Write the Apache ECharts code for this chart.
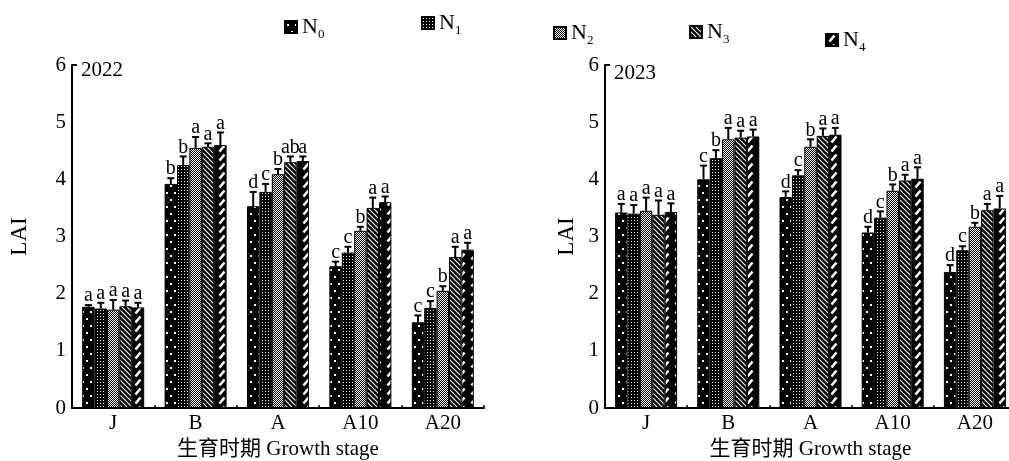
<!DOCTYPE html>
<html>
<head>
<meta charset="utf-8">
<script src="https://cdn.jsdelivr.net/npm/echarts@6/dist/echarts.min.js"></script>
<style>
html,body{margin:0;padding:0;background:#fff;}
#chart{width:1009px;height:461px;}
</style>
</head>
<body>
<div id="chart"></div>
<script>
// ---------- data ----------
const categories = ['J', 'B', 'A', 'A10', 'A20'];
const treatments = ['N0', 'N1', 'N2', 'N3', 'N4'];
const yTicks = [0, 1, 2, 3, 4, 5, 6];

// rows: N0..N4, columns: J, B, A, A10, A20
const lai2022 = [
  [1.77, 3.92, 3.53, 2.48, 1.50],
  [1.74, 4.25, 3.78, 2.72, 1.75],
  [1.72, 4.55, 4.09, 3.10, 2.05],
  [1.78, 4.57, 4.30, 3.50, 2.64],
  [1.76, 4.60, 4.32, 3.60, 2.77]
];
const err2022 = [
  [0.03, 0.10, 0.25, 0.08, 0.12],
  [0.10, 0.15, 0.14, 0.10, 0.12],
  [0.17, 0.19, 0.09, 0.07, 0.08],
  [0.10, 0.06, 0.10, 0.18, 0.18],
  [0.08, 0.22, 0.08, 0.10, 0.12]
];
const sig2022 = [
  ['a', 'b', 'd', 'c', 'c'],
  ['a', 'b', 'c', 'c', 'c'],
  ['a', 'a', 'b', 'b', 'b'],
  ['a', 'a', 'ab', 'a', 'a'],
  ['a', 'a', 'a', 'a', 'a']
];

const lai2023 = [
  [3.42, 4.00, 3.69, 3.07, 2.38],
  [3.40, 4.37, 4.07, 3.33, 2.76],
  [3.45, 4.70, 4.57, 3.80, 3.17],
  [3.38, 4.73, 4.76, 3.98, 3.46],
  [3.43, 4.75, 4.78, 4.01, 3.49]
];
const err2023 = [
  [0.15, 0.24, 0.10, 0.10, 0.12],
  [0.15, 0.14, 0.09, 0.11, 0.07],
  [0.23, 0.20, 0.13, 0.11, 0.07],
  [0.25, 0.12, 0.13, 0.10, 0.11],
  [0.15, 0.12, 0.12, 0.20, 0.22]
];
const sig2023 = [
  ['a', 'c', 'd', 'd', 'd'],
  ['a', 'b', 'c', 'c', 'c'],
  ['a', 'a', 'b', 'b', 'b'],
  ['a', 'a', 'a', 'a', 'a'],
  ['a', 'a', 'a', 'a', 'a']
];

// ---------- patterns ----------
function tile(w, h, draw) {
  const c = document.createElement('canvas');
  c.width = w; c.height = h;
  const g = c.getContext('2d');
  g.fillStyle = '#000'; g.fillRect(0, 0, w, h);
  g.fillStyle = '#fff'; g.strokeStyle = '#fff';
  draw(g);
  return { image: c, repeat: 'repeat' };
}
const patterns = [
  tile(8, 14, g => { g.fillRect(2, 3, 2, 2); g.fillRect(6, 10, 2, 2); }),
  tile(3, 3, g => { g.fillRect(1, 1, 1, 1); }),
  tile(2, 2, g => { g.fillRect(0, 0, 1, 1); g.fillRect(1, 1, 1, 1); }),
  tile(5, 5, g => { g.lineWidth = 1.1; g.beginPath(); g.moveTo(-1, -1); g.lineTo(6, 6); g.moveTo(-1, 4); g.lineTo(1, 6); g.moveTo(4, -1); g.lineTo(6, 1); g.stroke(); }),
  tile(12, 9, g => { g.lineWidth = 2.6; g.beginPath(); g.moveTo(3.5, 7.5); g.lineTo(8.5, 1.5); g.stroke(); })
];

// ---------- layout ----------
const SERIF = '"Liberation Serif", "DejaVu Serif", "Noto Sans CJK SC", serif';
const BW = 12.4;
const grids = [
  { left: 72, top: 65, width: 412, height: 343, outerBoundsMode: 'none', containLabel: false },
  { left: 605, top: 65, width: 411, height: 343, outerBoundsMode: 'none', containLabel: false }
];

function xAxisFor(gi) {
  return {
    type: 'category', gridIndex: gi, data: categories,
    axisLine: { lineStyle: { color: '#000', width: 2 } },
    axisTick: { show: true, inside: true, length: 3, lineStyle: { color: '#000', width: 1.5 } },
    axisLabel: { color: '#000', fontFamily: SERIF, fontSize: 21, margin: 5 },
    name: '生育时期 Growth stage', nameLocation: 'middle', nameGap: 29,
    nameTextStyle: { color: '#000', fontFamily: SERIF, fontSize: 21 }
  };
}
function yAxisFor(gi) {
  return {
    type: 'value', gridIndex: gi, min: yTicks[0], max: yTicks[yTicks.length - 1], interval: 1,
    axisLine: { show: true, lineStyle: { color: '#000', width: 2 } },
    axisTick: { show: true, inside: true, length: 5, customValues: [yTicks[yTicks.length - 1]], lineStyle: { color: '#000', width: 2 } },
    splitLine: { show: false },
    axisLabel: { color: '#000', fontFamily: SERIF, fontSize: 21, margin: 6 },
    name: 'LAI', nameLocation: 'middle', nameGap: gi === 0 ? 41 : 27, nameRotate: 90,
    nameTextStyle: { color: '#000', fontFamily: SERIF, fontSize: 23 }
  };
}

function barSeries(gi, values) {
  return values.map((row, i) => ({
    name: treatments[i], type: 'bar', xAxisIndex: gi, yAxisIndex: gi,
    data: row, barWidth: BW, barGap: '0%',
    itemStyle: { color: patterns[i], borderColor: '#000', borderWidth: 1 },
    emphasis: { disabled: true }, animation: false
  }));
}

function errSeries(gi, values, errs, sigs) {
  const data = [];
  values.forEach((row, i) => row.forEach((v, c) => data.push([c, i, v, errs[i][c]])));
  return {
    type: 'custom', xAxisIndex: gi, yAxisIndex: gi, animation: false, silent: true,
    encode: { x: 0, y: 2 },
    data: data,
    renderItem: function (params, api) {
      const c = api.value(0), i = api.value(1), v = api.value(2), e = api.value(3);
      const dx = (i - 2) * BW;
      const p0 = api.coord([c, v]);
      const p1 = api.coord([c, v + e]);
      const x = p0[0] + dx;
      return {
        type: 'group',
        children: [
          { type: 'line', shape: { x1: x, y1: p0[1], x2: x, y2: p1[1] }, style: { stroke: '#000', lineWidth: 2 } },
          { type: 'line', shape: { x1: x - 3.5, y1: p1[1], x2: x + 3.5, y2: p1[1] }, style: { stroke: '#000', lineWidth: 2 } },
          { type: 'text', x: x, y: p1[1] + 1,
            style: { text: sigs[i][c], fill: '#000', font: '20px ' + SERIF, textAlign: 'center', textVerticalAlign: 'bottom' } }
        ]
      };
    }
  };
}

// legend positions (icon left, icon centre y)
const legendPos = [[284, 27], [421, 23], [553, 33], [689, 32], [825, 40]];
const legends = treatments.map((t, i) => ({
  data: [t], left: legendPos[i][0], top: legendPos[i][1] - 12,
  icon: 'rect', itemWidth: 12, itemHeight: 12, itemGap: 4, padding: 0,
  selectedMode: false,
  formatter: name => '{n|N}{s|' + name.slice(1) + '}',
  textStyle: {
    color: '#000', fontFamily: SERIF, fontSize: 22, lineHeight: 24, padding: [0, 0, 0, 0],
    rich: {
      n: { fontFamily: SERIF, fontSize: 22, color: '#000', lineHeight: 24, verticalAlign: 'middle' },
      s: { fontFamily: SERIF, fontSize: 13, color: '#000', lineHeight: 24, verticalAlign: 'bottom', padding: [0, 0, -2, 0] }
    }
  }
}));

const chart = echarts.init(document.getElementById('chart'), null, { renderer: 'canvas' });
chart.setOption({
  backgroundColor: '#fff',
  animation: false,
  title: [
    { text: '2022', left: 81, top: 60, textStyle: { color: '#000', fontFamily: SERIF, fontSize: 21, fontWeight: 'normal' }, padding: 0 },
    { text: '2023', left: 614, top: 63, textStyle: { color: '#000', fontFamily: SERIF, fontSize: 21, fontWeight: 'normal' }, padding: 0 }
  ],
  legend: legends,
  grid: grids,
  xAxis: [xAxisFor(0), xAxisFor(1)],
  yAxis: [yAxisFor(0), yAxisFor(1)],
  series: [
    ...barSeries(0, lai2022),
    errSeries(0, lai2022, err2022, sig2022),
    ...barSeries(1, lai2023),
    errSeries(1, lai2023, err2023, sig2023)
  ]
});
</script>
</body>
</html>
